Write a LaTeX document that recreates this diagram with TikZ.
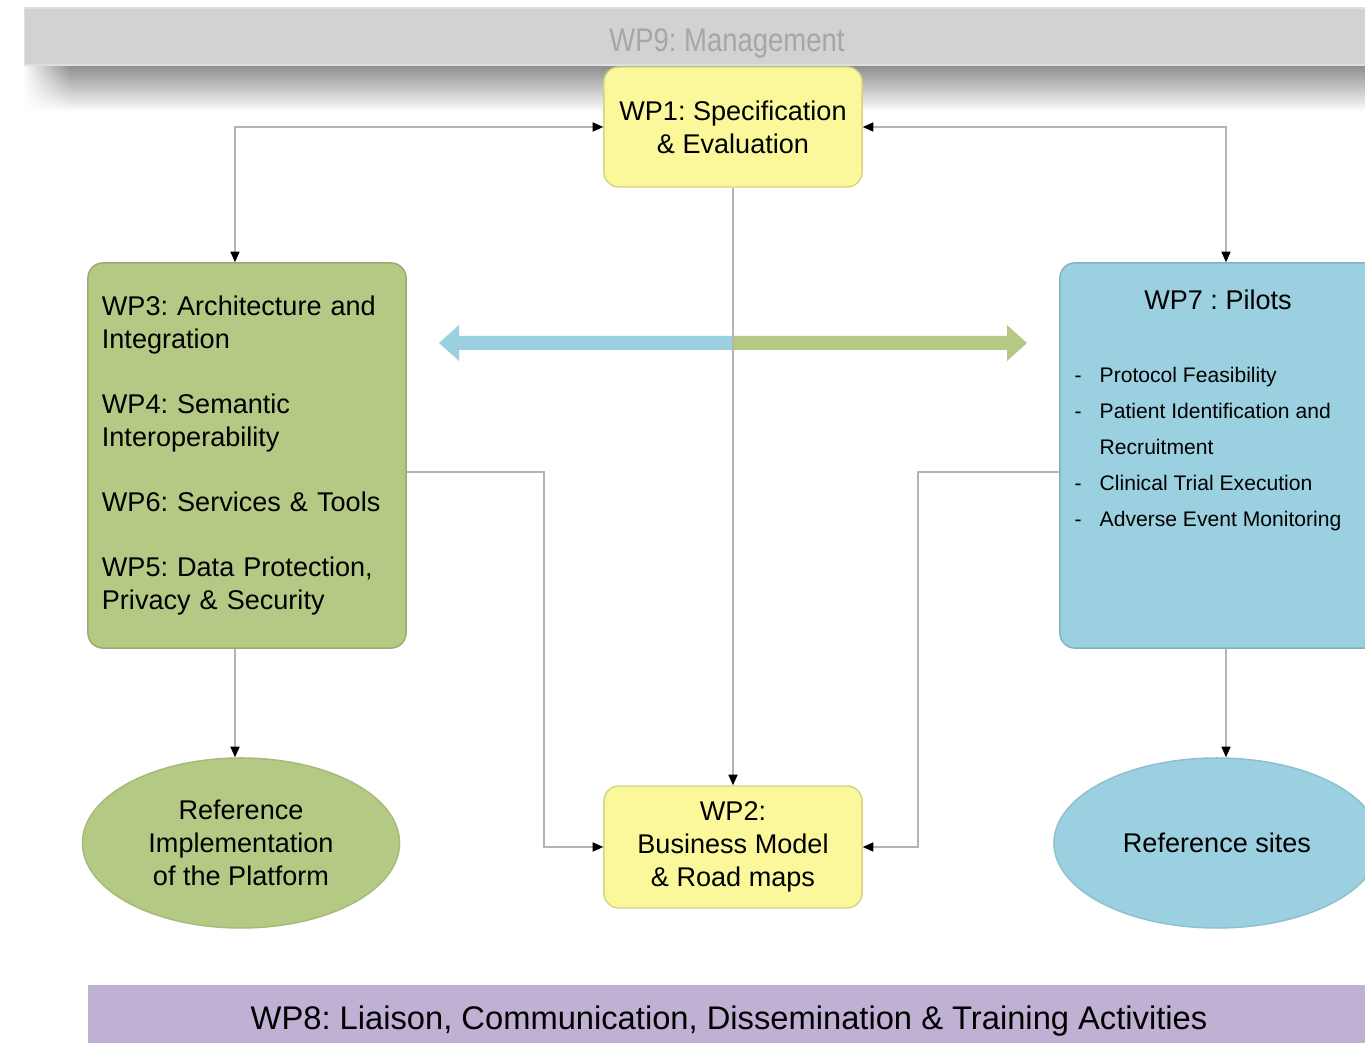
\documentclass[tikz,border=0pt]{standalone}
\usepackage{graphicx}
\usepackage{fontspec}
\setmainfont{Liberation Sans}
\frenchspacing
\usetikzlibrary{arrows.meta,shapes.geometric,fadings}

\definecolor{wpyellow}{HTML}{FAF89B}
\definecolor{wpgreen}{HTML}{B4C984}
\definecolor{wpblue}{HTML}{9BD0E0}
\definecolor{wppurple}{HTML}{C0B1D4}
\definecolor{wpgray}{HTML}{D2D2D2}
\definecolor{wpgraytext}{HTML}{A6A6A6}
\definecolor{wpline}{HTML}{B4B4B4}

\newcommand{\wpfont}{\fontsize{7.7}{9.3}\selectfont}
\newcommand{\itemfont}{\fontsize{6}{10.3}\selectfont}
\newcommand{\barfont}{\fontsize{9.3}{11}\selectfont}

\tikzfading[name=fadeleft, left color=transparent!100, right color=transparent!0]

\tikzset{
  wpbox/.style={rectangle, rounded corners=4.3pt, draw=#1!85!black, fill=#1,
    line width=0.4pt, inner sep=0pt, font=\wpfont, align=center},
  wpoval/.style={ellipse, draw=#1!92!black, fill=#1, line width=0.4pt,
    inner sep=0pt, font=\wpfont, align=center},
  wpbar/.style={rectangle, fill=#1, inner sep=0pt, font=\barfont},
  conn/.style={draw=wpline, line width=0.35pt,
    >={Triangle[length=3pt,width=2.6pt,color=black]}},
}

\begin{document}
\begin{tikzpicture}[x=0.01cm, y=-0.01cm]
\useasboundingbox (0,0) rectangle (1365,1043);

% Management bar and its shadow
\shade[top color=black!45, bottom color=white] (70,65) rectangle (1365,112);
\shade[top color=black!45, bottom color=white, path fading=fadeleft] (22,65) rectangle (70,112);
\node[wpbar=wpgray, draw=gray!25, minimum width=14.04cm, minimum height=0.57cm] (wp9) at (727,36.5)
  {\raisebox{-4.4pt}[0pt][0pt]{\color{wpgraytext}\scalebox{0.84}[1]{WP9: Management}}};

% Work packages
\node[wpbox=wpyellow, minimum width=2.58cm, minimum height=1.20cm] (wp1) at (733,127)
  {WP1: Specification\\\& Evaluation};
\node[wpbox=wpgreen, minimum width=3.18cm, minimum height=3.85cm, text width=2.90cm, align=left] (wp3) at (247,455.5)
  {WP3: Architecture and\\Integration\\[9.3pt]WP4: Semantic\\Interoperability\\[9.3pt]WP6: Services \& Tools\\[9.3pt]WP5: Data Protection,\\Privacy \& Security};
\node[wpbox=wpblue, minimum width=3.32cm, minimum height=3.85cm] (wp7) at (1226,455.5) {};
\node[font=\wpfont] (wp7title) at (1218,300) {WP7 : Pilots};
\node[font=\itemfont, align=left, anchor=west, inner sep=0pt] (wp7list) at (1074,449)
  {\makebox[0.25cm][l]{-}Protocol Feasibility\\
   \makebox[0.25cm][l]{-}Patient Identification and\\
   \makebox[0.25cm][l]{}Recruitment\\
   \makebox[0.25cm][l]{-}Clinical Trial Execution\\
   \makebox[0.25cm][l]{-}Adverse Event Monitoring};
\node[wpbox=wpyellow, minimum width=2.58cm, minimum height=1.22cm] (wp2) at (733,847)
  {WP2:\\Business Model\\\& Road maps};

% Results
\node[wpoval=wpgreen, minimum width=3.17cm, minimum height=1.70cm] (refimpl) at (241,843)
  {Reference\\Implementation\\of the Platform};
\node[wpoval=wpblue, minimum width=3.26cm, minimum height=1.70cm] (refsites) at (1217,843)
  {Reference sites};

% Dissemination bar
\node[wpbar=wppurple, minimum width=12.82cm, minimum height=0.66cm] (wp8) at (729,1018)
  {\raisebox{-3.3pt}[0pt][0pt]{WP8: Liaison, Communication, Dissemination \& Training Activities}};

% Exchange arrow between WP3 and WP7
\fill[wpblue] (439,343) -- (459,325) -- (459,336) -- (733,336) -- (733,350) -- (459,350) -- (459,361) -- cycle;
\fill[wpgreen] (733,336) -- (1007,336) -- (1007,325) -- (1027,343) -- (1007,361) -- (1007,350) -- (733,350) -- cycle;

% Connectors
\coordinate (k1) at (235,0);
\coordinate (k2) at (1226,0);
\coordinate (k3) at (544,472);
\coordinate (k4) at (918,472);

\draw[conn,<->] (wp3.north -| k1) |- (wp1.west);
\draw[conn,<->] (wp7.north -| k2) |- (wp1.east);
\draw[conn,->] (wp1) -- (wp2);
\draw[conn,->] (wp3.east |- k3) -- (k3) |- (wp2.west);
\draw[conn,->] (wp7.west |- k4) -- (k4) |- (wp2.east);
\draw[conn,->] (wp3.south -| k1) -- (refimpl.north -| k1);
\draw[conn,->] (wp7.south -| k2) -- (refsites.north -| k2);

\end{tikzpicture}
\end{document}
